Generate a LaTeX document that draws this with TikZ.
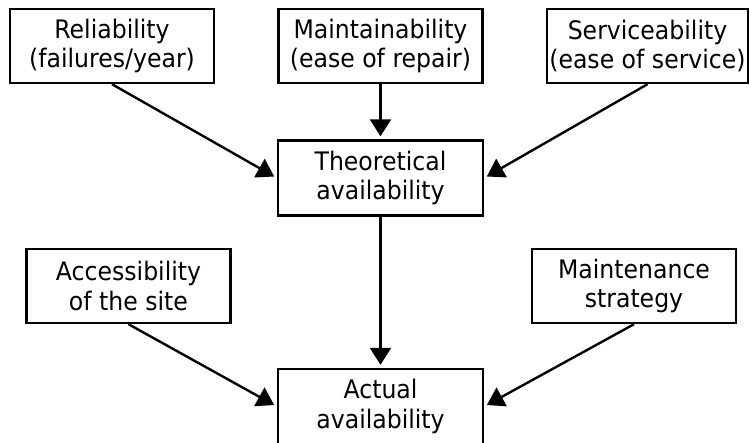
\documentclass[tikz,border=0pt]{standalone}
\usepackage{fontspec}
\setmainfont[FakeStretch=0.925]{DejaVu Sans}
\usetikzlibrary{arrows.meta}
\begin{document}
\begin{tikzpicture}[x=1pt,y=-1pt,
  box/.style={draw,line width=2.4pt,align=center,inner sep=0pt,
    minimum width=204pt,minimum height=74pt,
    font=\fontsize{25.5}{29.5}\selectfont},
  link/.style={line width=2.4pt,-{Triangle[length=17pt,width=21pt]},shorten >=3pt}]
\useasboundingbox (0,0) rectangle (750,443);
% factors
\node[box] (rel) at (112,46) {Reliability\\(failures/year)};
\node[box] (mnt) at (380.5,46) {Maintainability\\(ease of repair)};
\node[box,minimum width=201pt] (svc) at (647.5,46) {Serviceability\\(ease of service)};
\node[box,minimum width=205pt,minimum height=75pt] (theo) at (380.5,178) {Theoretical\\availability};
\node[box] (acc) at (128.5,286) {Accessibility\\of the site};
\node[box] (strat) at (634,286) {Maintenance\\strategy};
\node[box,minimum width=205pt,minimum height=75pt] (act) at (380.5,406.5) {Actual\\availability};
% connectors
\draw[link] (rel.south) -- (theo.west);
\draw[link] (mnt.south) -- (theo.north);
\draw[link] (svc.south) -- (theo.east);
\draw[link] (theo.south) -- (act.north);
\draw[link] (acc.south) -- (act.west);
\draw[link] (strat.south) -- (act.east);
\end{tikzpicture}
\end{document}
